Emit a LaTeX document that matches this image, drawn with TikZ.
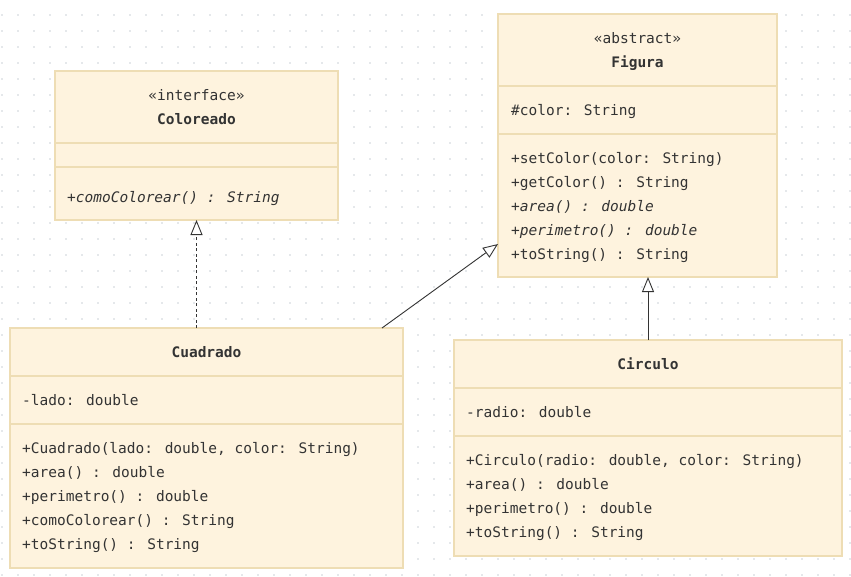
\documentclass[tikz,border=0pt]{standalone}
\usepackage{fontspec}
\setmainfont{DejaVu Sans Mono}
\usepackage{tikz}
\usetikzlibrary{arrows.meta, positioning, calc}
\usepackage{xcolor}
\definecolor{classfill}{HTML}{FEF3DE}
\definecolor{classline}{HTML}{EEDDB4}
\definecolor{textgray}{HTML}{333333}
\definecolor{dotgray}{HTML}{CCD2D8}
\newcommand{\umlfont}{\fontsize{14.5}{17}\selectfont}
\tikzstyle{classbox} = [rectangle, draw=classline, fill=classfill, line width=1.2pt, inner sep=0pt, outer sep=0pt]
\tikzstyle{divider} = [draw=classline, line width=1.2pt]
\tikzstyle{stereo} = [anchor=base, inner sep=0pt, text=textgray, font=\umlfont]
\tikzstyle{title} = [anchor=base, inner sep=0pt, text=textgray, font=\umlfont\bfseries]
\tikzstyle{member} = [anchor=base west, inner sep=0pt, text=textgray, font=\umlfont]
\tikzstyle{abstractm} = [member, font=\umlfont\itshape]
\tikzstyle{arrow} = [draw=textgray, line width=0.9pt, -{Triangle[open, fill=white, length=15pt, width=12pt]}]
\tikzstyle{realize} = [arrow, dash pattern=on 3pt off 2.5pt]

\begin{document}
\begin{tikzpicture}[x=1pt, y=-1pt]
        % background with dot grid
        \fill[white] (0,0) rectangle (851,576);
        \foreach \x in {2,18,...,850}
            \foreach \y in {15,31,...,575}
                \fill[dotgray] (\x,\y) circle (0.9pt);
        \useasboundingbox (0,0) rectangle (851,576);

        % interface Coloreado
        \node (col) [classbox, minimum width=283pt, minimum height=149pt] at (196.5,145.5) {};
        \draw[divider] (col.west |- 0,143) -- (col.east |- 0,143);
        \draw[divider] (col.west |- 0,167) -- (col.east |- 0,167);
        \node (colst) [stereo] at (196.5,100) {«interface»};
        \node (colname) [title] at (196.5,124) {Coloreado};
        \node (colm1) [abstractm] at (67,202) {+comoColorear() : String};

        % abstract Figura
        \node (fig) [classbox, minimum width=279pt, minimum height=263pt] at (637.5,145.5) {};
        \draw[divider] (fig.west |- 0,86) -- (fig.east |- 0,86);
        \draw[divider] (fig.west |- 0,134) -- (fig.east |- 0,134);
        \node (figst) [stereo] at (637.5,43) {«abstract»};
        \node (figname) [title] at (637.5,67) {Figura};
        \node (figa1) [member] at (511,115) {\#color: String};
        \node (figm1) [member] at (511,163) {+setColor(color: String)};
        \node (figm2) [member] at (511,187) {+getColor() : String};
        \node (figm3) [abstractm] at (511,211) {+area() : double};
        \node (figm4) [abstractm] at (511,235) {+perimetro() : double};
        \node (figm5) [member] at (511,259) {+toString() : String};

        % Cuadrado
        \node (cuad) [classbox, minimum width=393pt, minimum height=240pt] at (206.5,448) {};
        \draw[divider] (cuad.west |- 0,376) -- (cuad.east |- 0,376);
        \draw[divider] (cuad.west |- 0,424) -- (cuad.east |- 0,424);
        \node (cuadname) [title] at (206.5,357) {Cuadrado};
        \node (cuada1) [member] at (22,405) {-lado: double};
        \node (cuadm1) [member] at (22,453) {+Cuadrado(lado: double, color: String)};
        \node (cuadm2) [member] at (22,477) {+area() : double};
        \node (cuadm3) [member] at (22,501) {+perimetro() : double};
        \node (cuadm4) [member] at (22,525) {+comoColorear() : String};
        \node (cuadm5) [member] at (22,549) {+toString() : String};

        % Circulo
        \node (circ) [classbox, minimum width=388pt, minimum height=216pt] at (648,448) {};
        \draw[divider] (circ.west |- 0,388) -- (circ.east |- 0,388);
        \draw[divider] (circ.west |- 0,436) -- (circ.east |- 0,436);
        \node (circname) [title] at (648,369) {Circulo};
        \node (circa1) [member] at (466,417) {-radio: double};
        \node (circm1) [member] at (466,465) {+Circulo(radio: double, color: String)};
        \node (circm2) [member] at (466,489) {+area() : double};
        \node (circm3) [member] at (466,513) {+perimetro() : double};
        \node (circm4) [member] at (466,537) {+toString() : String};

        \draw [realize] (col.south |- cuad.north) -- (col.south);
        \draw [arrow] ([xshift=-21pt]cuad.north east) -- ([yshift=33pt]fig.south west);
        \draw [arrow] (circ.north) -- (circ.north |- fig.south);
    \end{tikzpicture}
\end{document}
